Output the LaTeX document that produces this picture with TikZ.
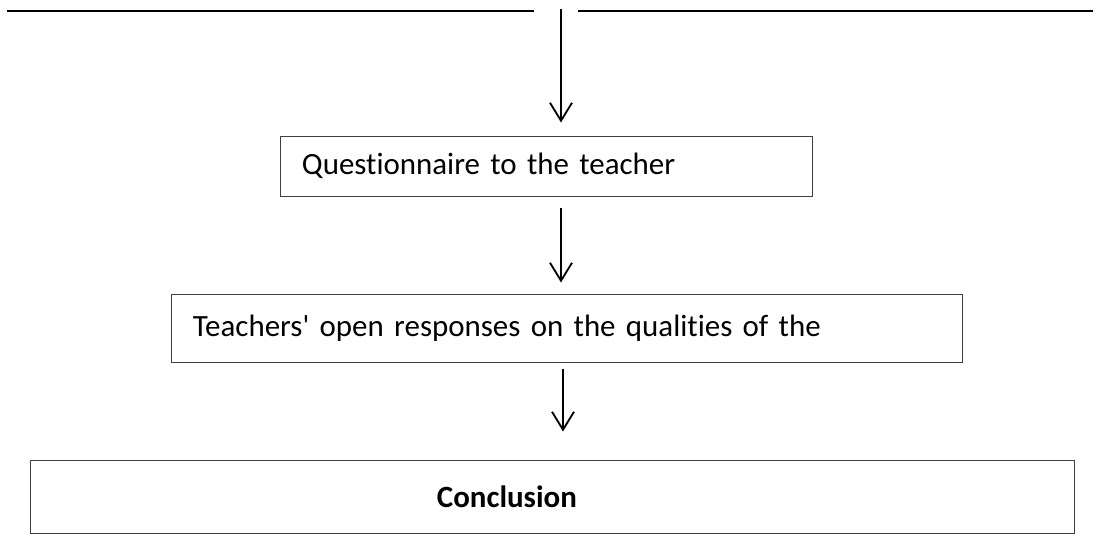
\documentclass[tikz,border=0pt]{standalone}
\usepackage{fontspec}
\setmainfont{Carlito}[Ligatures={TeXOff,CommonOff}]
\usetikzlibrary{arrows.meta,positioning}

\begin{document}
\begin{tikzpicture}[x=0.025cm,y=-0.025cm,
   font=\fontsize{22}{26}\selectfont,
   box/.style={draw=black!75,line width=0.7pt,align=left,
               inner xsep=0.525cm,inner ysep=0pt},
   arr/.style={-{Straight Barb[length=4.5mm,width=5.5mm]},line width=1.3pt}]
  \useasboundingbox (0,0) rectangle (1094,534);
  % top rule, open in the middle
  \draw[line width=1.5pt] (7,11) -- (534,11);
  \draw[line width=1.5pt] (578,11) -- (1093,11);
  \coordinate (top) at (561,9);
  \coordinate (mid) at (563,0);
  \node[box,text width=12.225cm,minimum height=1.5cm] (quest)
       at (546.5,166) {Questionnaire to the teacher};
  \node[box,text width=18.7cm,minimum height=1.7cm] (resp)
       at (567,328) {Teachers' open responses on the qualities of the};
  \node[box,text width=25.025cm,minimum height=1.825cm] (concl)
       at (552.5,496.5) {\hspace*{9.625cm}\textbf{Conclusion}};
  \draw[arr,shorten >=0.325cm] (top) -- (top |- quest.north);
  \draw[arr,shorten <=0.275cm,shorten >=0.275cm] (top |- quest.south) -- (top |- resp.north);
  \draw[arr,shorten <=0.15cm,shorten >=0.7cm] (mid |- resp.south) -- (mid |- concl.north);
\end{tikzpicture}
\end{document}
